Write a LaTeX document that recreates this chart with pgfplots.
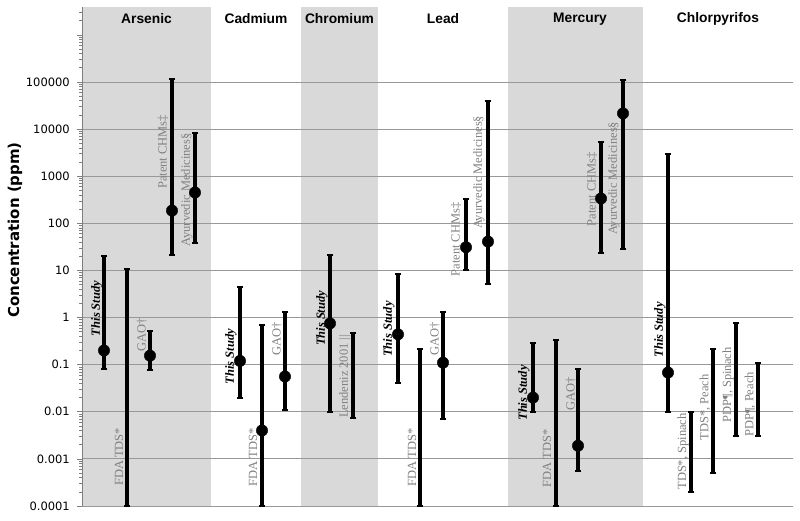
\documentclass[border=0pt]{standalone}
\usepackage{fontspec}
\setmainfont{Liberation Serif}
\newfontfamily\arial{Liberation Sans}
\newfontfamily\verdana{DejaVu Sans}
\usepackage{pgfplots}
\pgfplotsset{compat=1.18}

\definecolor{band}{HTML}{D9D9D9}
\definecolor{gridc}{HTML}{999999}
\definecolor{labc}{HTML}{808080}
\definecolor{axc}{HTML}{7F7F7F}

\pgfplotsset{
  bar/.style={black, line width=3.1pt, mark=-, mark size=3.3pt, mark options={line width=2pt}},
}
\tikzset{
  lab/.style={rotate=90, inner sep=0pt, text=labc, font=\fontsize{12.5}{12.5}\selectfont},
  us/.style={rotate=90, inner sep=0pt, text=black, font=\fontsize{12.5}{12.5}\selectfont\bfseries\itshape},
  cat/.style={inner sep=0pt, font=\arial\bfseries\fontsize{13.8}{14}\selectfont},
}

\begin{document}
\begin{tikzpicture}
\begin{axis}[
    set layers,
    scale only axis,
    width=711pt, height=499pt,
    xmin=82, xmax=793,
    ymode=log,
    ymin=1e-4, ymax=3.9e6,
    axis x line=none,
    axis y line*=left,
    y axis line style={color=axc, line width=0.7pt},
    xtick=\empty,
    ytick={1e-4,1e-3,1e-2,1e-1,1,10,100,1000,10000,100000,1000000},
    yticklabels={0.0001,0.001,0.01,0.1,1,10,100,1000,10000,100000,},
    extra y ticks={2e-4,3e-4,4e-4,5e-4,6e-4,7e-4,8e-4,9e-4,2e-3,3e-3,4e-3,5e-3,6e-3,7e-3,8e-3,9e-3,2e-2,3e-2,4e-2,5e-2,6e-2,7e-2,8e-2,9e-2,0.2,0.3,0.4,0.5,0.6,0.7,0.8,0.9,2,3,4,5,6,7,8,9,20,30,40,50,60,70,80,90,200,300,400,500,600,700,800,900,2000,3000,4000,5000,6000,7000,8000,9000,2e4,3e4,4e4,5e4,6e4,7e4,8e4,9e4,2e5,3e5,4e5,5e5,6e5,7e5,8e5,9e5,2e6,3e6},
    extra y tick labels={},
    extra y tick style={major tick length=3pt},
    tick align=outside,
    major tick length=5pt,
    minor tick length=3pt,
    every tick/.style={color=axc, line width=0.6pt},
    yticklabel style={font=\verdana\fontsize{11.5}{12}\selectfont, inner sep=1pt, xshift=-6pt},
    /pgf/number format/assume math mode=true,
    clip=false,
]
% shaded element bands and horizontal grid, behind the data
\begin{pgfonlayer}{axis background}
\fill[band] (axis cs:82,1e-4) rectangle (axis cs:211,3.9e6);
\fill[band] (axis cs:301,1e-4) rectangle (axis cs:378,3.9e6);
\fill[band] (axis cs:508,1e-4) rectangle (axis cs:643,3.9e6);
\end{pgfonlayer}
\begin{pgfonlayer}{axis grid}
\pgfplotsinvokeforeach{1e-4,1e-3,1e-2,1e-1,1,10,100,1000,10000,100000}{
  \draw[gridc, line width=0.9pt] (axis cs:82,#1) -- (axis cs:793,#1);
}
\end{pgfonlayer}

% category titles
\node[cat] at (axis cs:146.5,2.2e6) {Arsenic};
\node[cat] at (axis cs:256,2.2e6) {Cadmium};
\node[cat] at (axis cs:339.5,2.2e6) {Chromium};
\node[cat] at (axis cs:443,2.2e6) {Lead};
\node[cat] at (axis cs:580,2.2e6) {Mercury};
\node[cat] at (axis cs:718,2.2e6) {Chlorpyrifos};

% ranges (min, max) -- Arsenic
\addplot[bar] coordinates {(104,0.08) (104,20)};
\addplot[bar] coordinates {(127,1e-4) (127,10.5)};
\addplot[bar] coordinates {(150,0.078) (150,0.53)};
\addplot[bar] coordinates {(172,21) (172,118000)};
\addplot[bar] coordinates {(195,38) (195,8400)};
% Cadmium
\addplot[bar] coordinates {(240,0.02) (240,4.5)};
\addplot[bar] coordinates {(262,1e-4) (262,0.68)};
\addplot[bar] coordinates {(285,0.011) (285,1.34)};
% Chromium
\addplot[bar] coordinates {(330,0.01) (330,21)};
\addplot[bar] coordinates {(353,0.0072) (353,0.48)};
% Lead
\addplot[bar] coordinates {(398,0.041) (398,8.2)};
\addplot[bar] coordinates {(420,1e-4) (420,0.22)};
\addplot[bar] coordinates {(443,0.007) (443,1.3)};
\addplot[bar] coordinates {(466,10) (466,330)};
\addplot[bar] coordinates {(488,5.2) (488,39000)};
% Mercury
\addplot[bar] coordinates {(533,0.01) (533,0.29)};
\addplot[bar] coordinates {(556,1e-4) (556,0.33)};
\addplot[bar] coordinates {(578,0.00054) (578,0.08)};
\addplot[bar] coordinates {(601,23) (601,5200)};
\addplot[bar] coordinates {(623,29) (623,110000)};
% Chlorpyrifos
\addplot[bar] coordinates {(668,0.01) (668,3000)};
\addplot[bar] coordinates {(691,0.0002) (691,0.01)};
\addplot[bar] coordinates {(713,0.0005) (713,0.22)};
\addplot[bar] coordinates {(736,0.003) (736,0.75)};
\addplot[bar] coordinates {(758,0.003) (758,0.11)};

% reported concentrations
\addplot[only marks, mark=*, mark size=5.7pt, black] coordinates {
  (104,0.2) (150,0.155) (172,186) (195,450)
  (240,0.12) (262,0.004) (285,0.056)
  (330,0.75)
  (398,0.44) (443,0.11) (466,31) (488,41)
  (533,0.02) (578,0.0019) (601,336) (623,21500)
  (668,0.068)
};

% source labels
\node[us]  at (axis cs:97,1.56) {This Study};
\node[lab] at (axis cs:119,1.1e-3) {FDA TDS*};
\node[lab] at (axis cs:142,0.43) {GAO†};
\node[lab] at (axis cs:163,3280) {Patent CHMs‡};
\node[lab] at (axis cs:187,512) {Ayurvedic Medicines§};

\node[us]  at (axis cs:231,0.149) {This Study};
\node[lab] at (axis cs:253,1.07e-3) {FDA TDS*};
\node[lab] at (axis cs:277,0.35) {GAO†};

\node[us]  at (axis cs:322,0.96) {This Study};
\node[lab] at (axis cs:345,0.056) {Lendeniz 2001 ||};

\node[us]  at (axis cs:389,0.57) {This Study};
\node[lab] at (axis cs:412,1.07e-3) {FDA TDS*};
\node[lab] at (axis cs:435,0.35) {GAO†};
\node[lab] at (axis cs:456,45.5) {Patent CHMs‡};
\node[lab] at (axis cs:479,1205) {Ayurvedic Medicines§};

\node[us]  at (axis cs:524,0.025) {This Study};
\node[lab] at (axis cs:547,1.02e-3) {FDA TDS*};
\node[lab] at (axis cs:571,0.0245) {GAO†};
\node[lab] at (axis cs:592,525) {Patent CHMs‡};
\node[lab] at (axis cs:614,898) {Ayurvedic Medicines§};

\node[us]  at (axis cs:660,0.546) {This Study};
\node[lab] at (axis cs:683,1.44e-3) {TDS*, Spinach};
\node[lab] at (axis cs:705,0.0123) {TDS*, Peach};
\node[lab] at (axis cs:728,0.037) {PDP¶, Spinach};
\node[lab] at (axis cs:750,0.0143) {PDP¶, Peach};

% y axis title
\node[rotate=90, font=\verdana\bfseries\fontsize{15}{15}\selectfont]
  at (rel axis cs:-0.0942,0.553) {Concentration (ppm)};
\end{axis}
\pgfresetboundingbox
\useasboundingbox (current axis.south west) ++(-82pt,-14pt) rectangle ++(800pt,520pt);
\end{tikzpicture}
\end{document}
